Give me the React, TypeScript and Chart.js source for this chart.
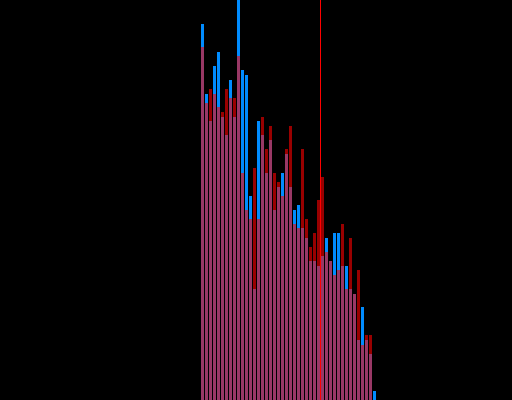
import React, { useEffect, useRef } from "react";
import { Chart, registerables } from "chart.js";

Chart.register(...registerables);

const categories = Array.from({ length: 44 }, (_, i) => String(i + 1));

const blueValues = [
  376, 306, 279, 334, 348, 283, 265, 320, 283, 420, 330, 325, 204, 111, 279,
  265, 227, 260, 190, 213, 227, 246, 213, 190, 195, 172, 162, 139, 139, 134,
  144, 162, 139, 167, 167, 134, 134, 111, 106, 60, 93, 60, 46, 9,
];

const redValues = [
  353, 297, 311, 306, 293, 288, 311, 302, 302, 344, 227, 190, 181, 232, 181,
  283, 251, 274, 227, 218, 204, 251, 274, 176, 172, 251, 181, 153, 167, 200,
  223, 148, 139, 125, 130, 176, 111, 162, 106, 130, 55, 65, 65, null,
];

const markerAfterIndex = 29;

const markerPlugin = {
  id: "marker",
  beforeDatasetsDraw(chart: any) {
    const x = chart.scales.x;
    const { top, bottom } = chart.chartArea;
    const px =
      (x.getPixelForValue(markerAfterIndex) +
        x.getPixelForValue(markerAfterIndex + 1)) /
      2;
    const ctx = chart.ctx;
    ctx.save();
    ctx.strokeStyle = "#ff0000";
    ctx.lineWidth = 1;
    ctx.beginPath();
    ctx.moveTo(px, top);
    ctx.lineTo(px, bottom);
    ctx.stroke();
    ctx.restore();
  },
};

export default function App() {
  const ref = useRef<HTMLCanvasElement>(null);
  useEffect(() => {
    document.body.style.margin = "0";
    document.body.style.background = "#000";
    const chart = new Chart(ref.current!, {
      type: "bar",
      data: {
        labels: categories,
        datasets: [
          {
            label: "A",
            data: blueValues,
            backgroundColor: "rgb(0,140,255)",
            order: 2,
            grouped: false,
          },
          {
            label: "B",
            data: redValues,
            backgroundColor: "rgba(255,0,0,0.6)",
            order: 1,
            grouped: false,
          },
        ],
      },
      options: {
        responsive: false,
        animation: false,
        layout: { padding: { left: 200.5, right: 135.5, top: 0, bottom: 0 } },
        datasets: { bar: { barPercentage: 0.75, categoryPercentage: 1 } },
        scales: {
          x: { display: false },
          y: { display: false, min: 0, max: 400 },
        },
        plugins: { legend: { display: false }, tooltip: { enabled: false } },
      },
      plugins: [markerPlugin],
    });
    return () => chart.destroy();
  }, []);
  return (
    <div style={{ width: 512, height: 400, background: "#000" }}>
      <canvas ref={ref} width={512} height={400} />
    </div>
  );
}
